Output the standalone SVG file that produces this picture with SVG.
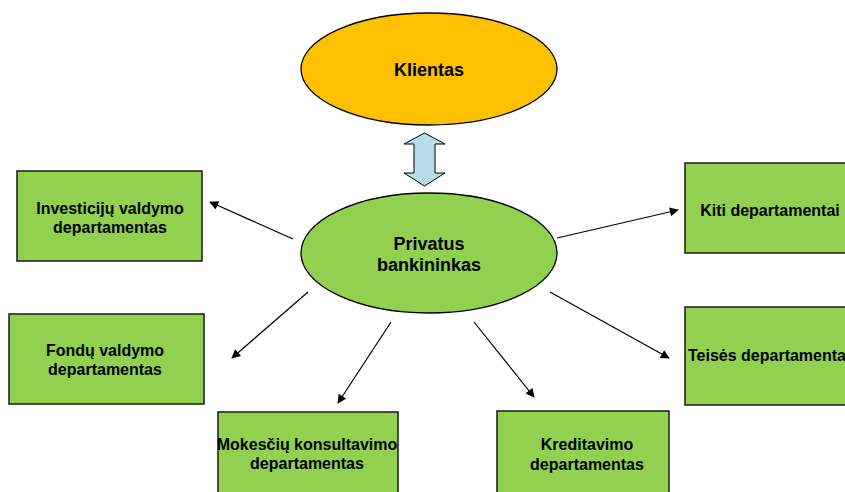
<svg xmlns="http://www.w3.org/2000/svg" width="845" height="492" viewBox="0 0 845 492">
  <style>
    .dept { fill: #92d050; stroke: #1a1a1a; stroke-width: 1.5; }
    .lbl { font-family: "Liberation Sans", Arial, sans-serif; font-weight: bold; font-size: 16px; fill: #000; text-anchor: middle; }
    .big { font-size: 18px; }
    .link { stroke: #000; stroke-width: 1.2; fill: none; marker-end: url(#head); }
  </style>
  <defs>
    <marker id="head" viewBox="0 0 10 10" refX="9" refY="5" markerWidth="10" markerHeight="9" markerUnits="userSpaceOnUse" orient="auto">
      <path d="M0,0 L10,5 L0,10 z" fill="#000"/>
    </marker>
  </defs>

  <rect width="845" height="492" fill="#fff"/>

  <g id="klientas">
    <ellipse cx="429" cy="69" rx="128" ry="56" fill="#ffc000" stroke="#000" stroke-width="1.3"/>
    <text class="lbl big" x="429" y="76">Klientas</text>
  </g>

  <g id="exchange">
    <path d="M424.5,133 L445,144 L435,144 L435,173 L445,173 L424.5,186 L404,173 L414,173 L414,144 L404,144 Z" fill="#b7dee8" stroke="#000" stroke-width="1"/>
  </g>

  <g id="bankininkas">
    <ellipse cx="429" cy="253" rx="128" ry="60" fill="#92d050" stroke="#000" stroke-width="1.3"/>
    <text class="lbl big" x="429" y="250">Privatus</text>
    <text class="lbl big" x="429" y="271">bankininkas</text>
  </g>

  <g id="investiciju">
    <rect class="dept" x="17" y="171" width="185" height="90"/>
    <text class="lbl" x="110" y="214">Investicijų valdymo</text>
    <text class="lbl" x="110" y="233">departamentas</text>
  </g>

  <g id="fondu">
    <rect class="dept" x="9" y="314" width="195" height="90"/>
    <text class="lbl" x="105" y="356">Fondų valdymo</text>
    <text class="lbl" x="105" y="375">departamentas</text>
  </g>

  <g id="mokesciu">
    <rect class="dept" x="218" y="412" width="180" height="90"/>
    <text class="lbl" x="307" y="450">Mokesčių konsultavimo</text>
    <text class="lbl" x="307" y="469">departamentas</text>
  </g>

  <g id="kreditavimo">
    <rect class="dept" x="497" y="411" width="172" height="90"/>
    <text class="lbl" x="587" y="450">Kreditavimo</text>
    <text class="lbl" x="587" y="470">departamentas</text>
  </g>

  <g id="kiti">
    <rect class="dept" x="685" y="163" width="170" height="90"/>
    <text class="lbl" x="770" y="216">Kiti departamentai</text>
  </g>

  <g id="teises">
    <rect class="dept" x="685" y="307" width="170" height="98"/>
    <text x="688" y="361" font-family="Liberation Sans, Arial, sans-serif" font-weight="bold" font-size="16" fill="#000">Teisės departamenta</text>
  </g>

  <g id="connectors">
    <line class="link" x1="293" y1="239" x2="210" y2="202"/>
    <line class="link" x1="557" y1="238" x2="678" y2="210"/>
    <line class="link" x1="550" y1="292" x2="669" y2="358"/>
    <line class="link" x1="308" y1="292" x2="232" y2="358"/>
    <line class="link" x1="391" y1="322" x2="338" y2="403"/>
    <line class="link" x1="474" y1="322" x2="534" y2="397"/>
  </g>
</svg>
